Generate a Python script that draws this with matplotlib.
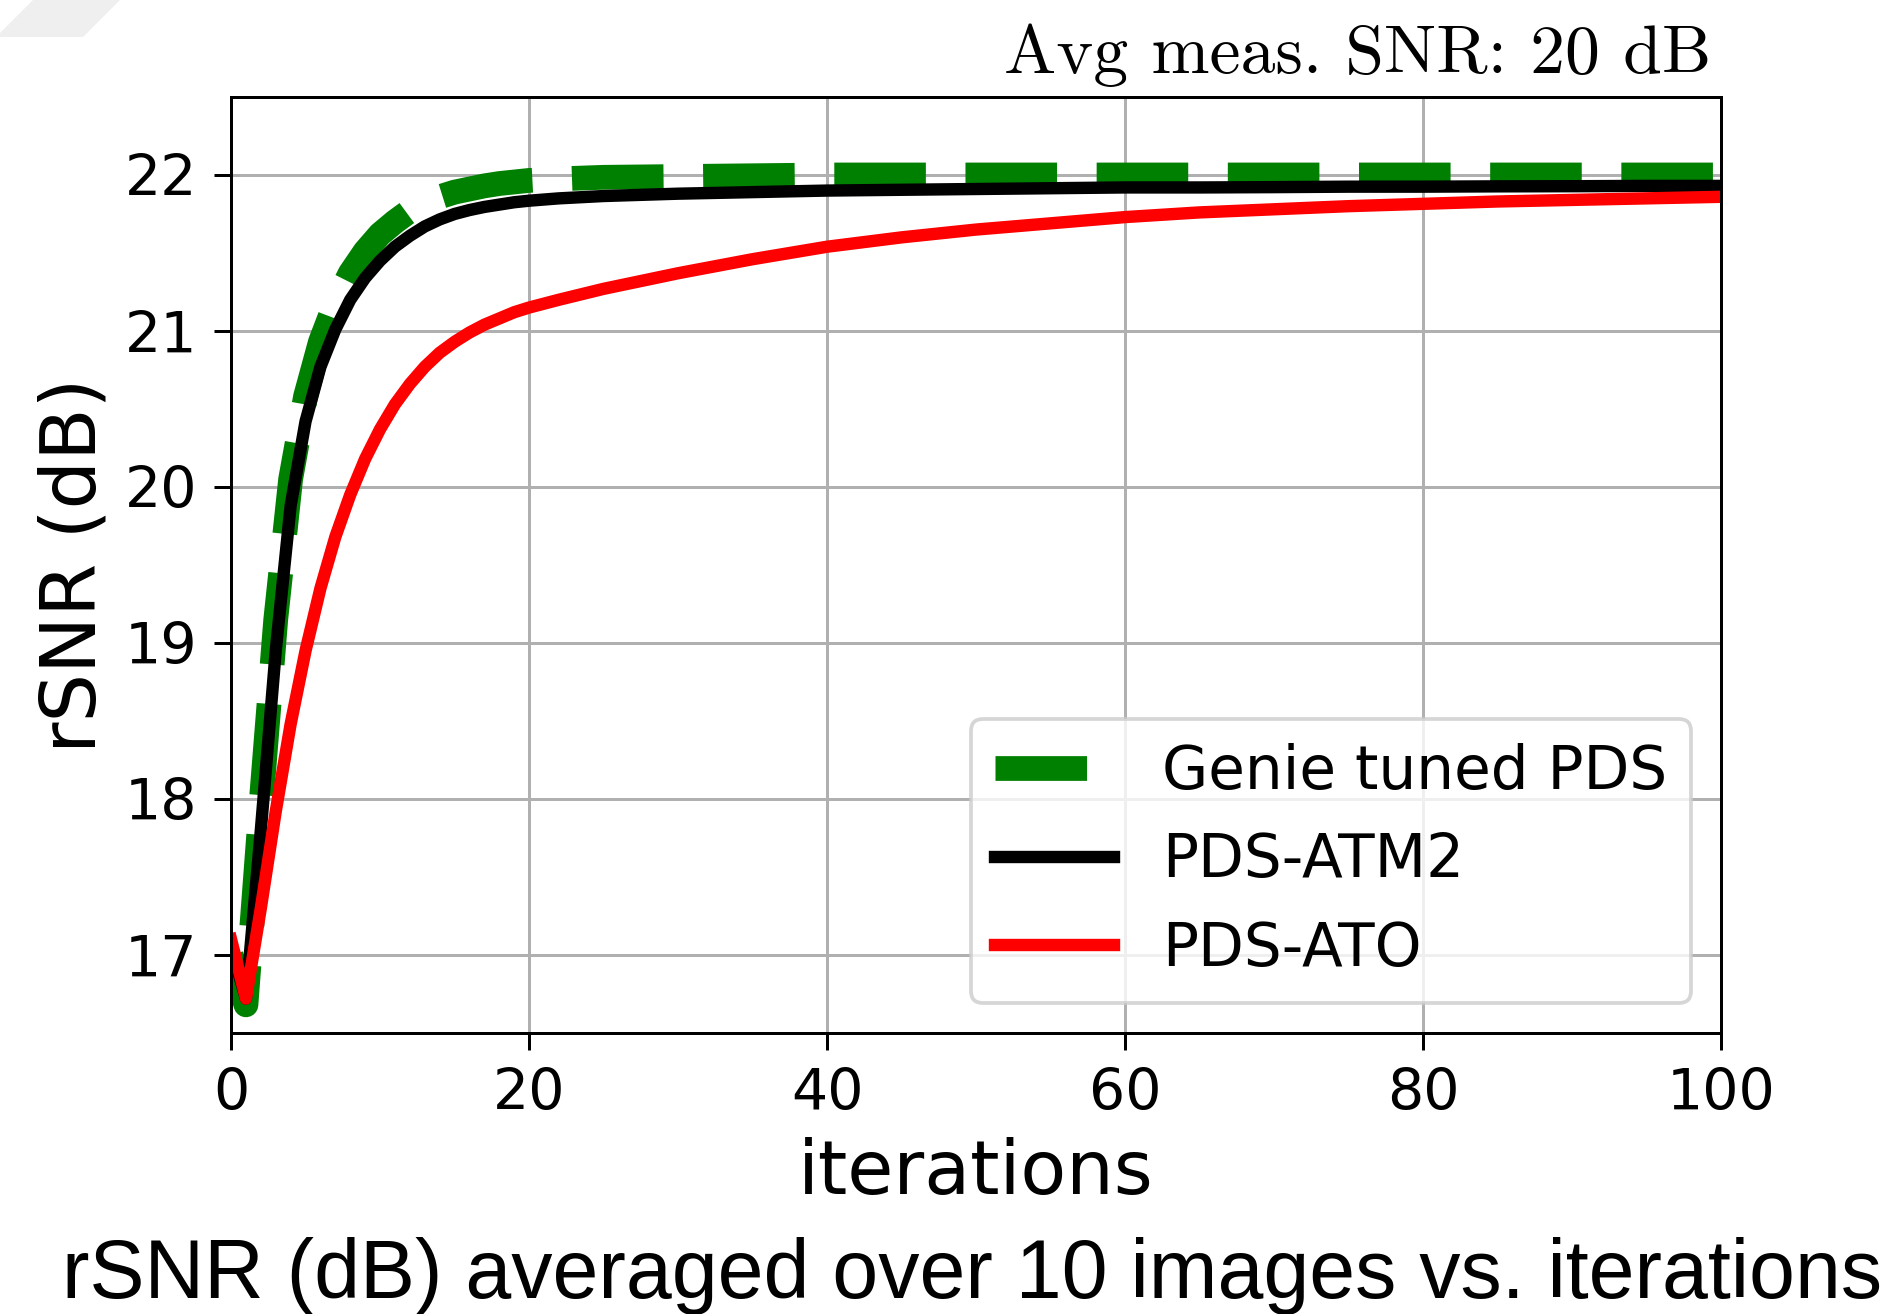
import matplotlib.pyplot as plt
from matplotlib.patches import Polygon

# ---- data ----
iters = [0, 1, 2, 3, 4, 5, 6, 7, 8, 9, 10, 11, 12, 13, 14, 15, 16, 17, 18, 19, 20,
         22, 25, 30, 35, 40, 45, 50, 55, 60, 65, 70, 75, 80, 85, 90, 95, 100]

genie = [17.00, 16.68, 17.95, 19.15, 20.05, 20.58, 20.93, 21.18, 21.37, 21.51, 21.62,
         21.70, 21.77, 21.82, 21.86, 21.89, 21.91, 21.93, 21.945, 21.955, 21.965,
         21.975, 21.985, 21.99, 21.995, 22.0, 22.0, 22.0, 22.0, 22.0, 22.0, 22.0,
         22.0, 22.0, 22.0, 22.0, 22.0, 22.0]

atm2 = [17.05, 16.72, 17.80, 18.95, 19.88, 20.42, 20.77, 21.01, 21.20, 21.34, 21.45,
        21.54, 21.61, 21.67, 21.715, 21.75, 21.775, 21.795, 21.81, 21.825, 21.835,
        21.85, 21.865, 21.88, 21.89, 21.90, 21.905, 21.91, 21.915, 21.92, 21.92,
        21.922, 21.925, 21.925, 21.927, 21.928, 21.93, 21.93]

ato = [17.10, 16.72, 17.30, 17.92, 18.48, 18.95, 19.35, 19.68, 19.95, 20.18, 20.37,
       20.53, 20.66, 20.77, 20.86, 20.93, 20.99, 21.04, 21.08, 21.12, 21.15,
       21.20, 21.27, 21.37, 21.46, 21.54, 21.60, 21.65, 21.69, 21.73, 21.76,
       21.78, 21.80, 21.815, 21.83, 21.84, 21.85, 21.86]

yticks = [17, 18, 19, 20, 21, 22]
xticks = [0, 20, 40, 60, 80, 100]

DPI = 270
fig = plt.figure(figsize=(1900 / DPI, 1314 / DPI), dpi=DPI)

# faint grey shape in the top-left corner of the reference
fig.patches.append(Polygon([(33 / 1900, 1.0), (120 / 1900, 1.0), (83 / 1900, 1 - 37 / 1314),
                            (0.0, 1 - 37 / 1314), (0.0, 1 - 33 / 1314)],
                           closed=True, transform=fig.transFigure,
                           facecolor='#efefef', edgecolor='none'))

ax = fig.add_axes([0.1216, 0.2139, 0.7842, 0.7123])

ax.plot(iters, genie, '--', color='green', lw=6.6, label='Genie tuned PDS')
ax.plot(iters, atm2, color='black', lw=3.3, label='PDS-ATM2')
ax.plot(iters, ato, color='red', lw=3.3, label='PDS-ATO')

ax.set_xlim(0, 100)
ax.set_ylim(16.5, 22.5)
ax.set_xticks(xticks)
ax.set_yticks(yticks)
ax.tick_params(labelsize=15.2, length=4.5)
ax.tick_params(axis='x', pad=4.5)
ax.tick_params(axis='y', pad=4.5)
ax.grid(True)

ax.set_xlabel('iterations', fontsize=20)
ax.set_ylabel('rSNR (dB)', fontsize=20.4, labelpad=3.5)
title = ax.set_title('Avg meas. SNR: 20 dB', loc='right', fontsize=18.6, pad=6.5,
                     family='cmr10')
title.set_x(1 - 10 / 1490)

ax.legend(loc='lower right', fontsize=15.9)

fig.text((61 + 1884) / 2 / 1900, 1 - 1276 / 1314,
         'rSNR (dB) averaged over 10 images vs. iterations',
         ha='center', va='center', fontsize=22, family='Liberation Sans')

fig.savefig('out.png', dpi=DPI)
